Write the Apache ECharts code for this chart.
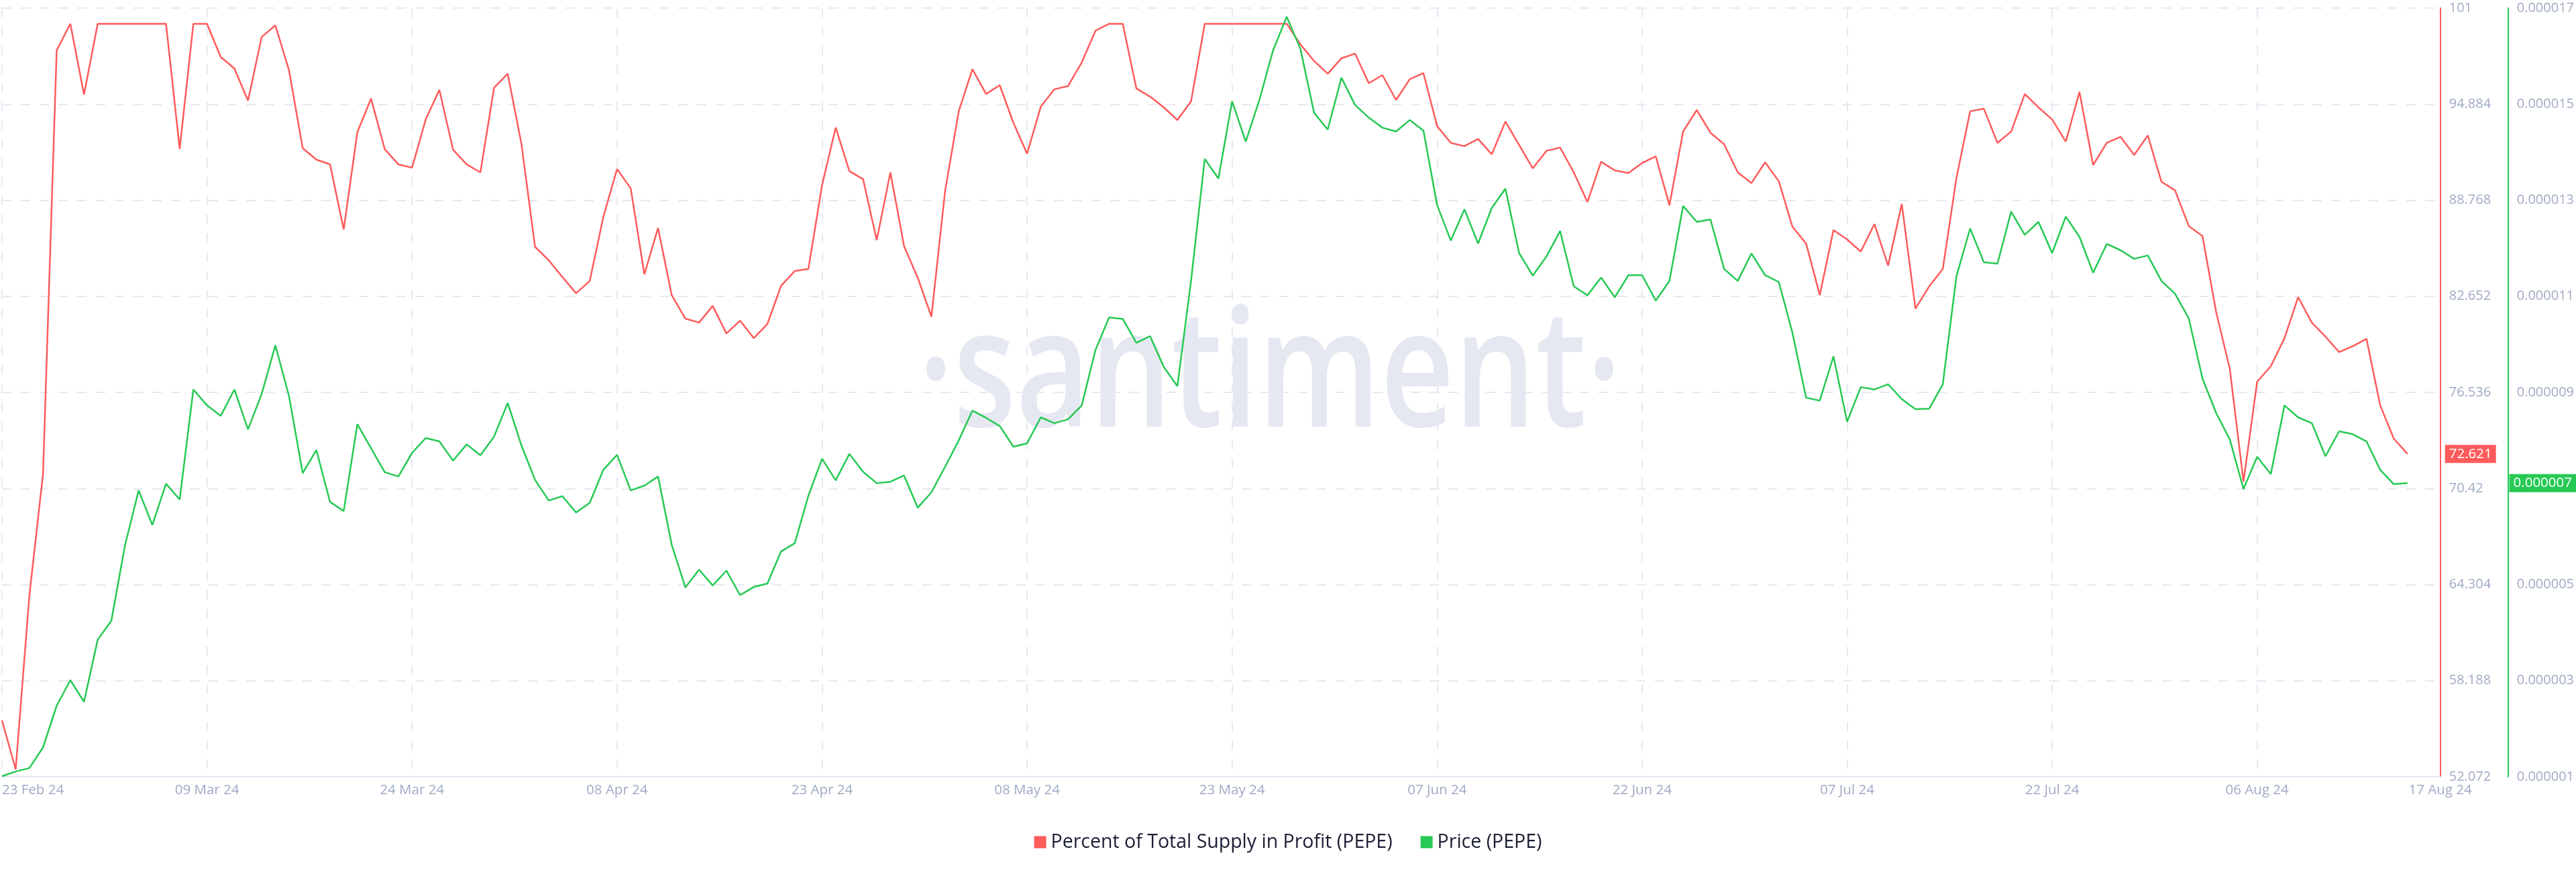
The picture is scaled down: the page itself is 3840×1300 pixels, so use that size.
<!DOCTYPE html>
<html>
<head>
<meta charset="utf-8">
<script src="https://cdn.jsdelivr.net/npm/echarts@6/dist/echarts.min.js"></script>
<style>
html,body{margin:0;padding:0;background:#ffffff;}
#chart{width:3840px;height:1300px;}
</style>
</head>
<body>
<div id="chart"></div>
<script>
// ---- data (daily, 23 Feb 2024 .. 17 Aug 2024) ----
const startDate = { year: 2024, month: 1, day: 23 }; // month is 0-based (Feb)

const seriesNames = ['Percent of Total Supply in Profit (PEPE)', 'Price (PEPE)'];

const profitPct = [
  55.66, 52.54, 63.6, 71.33, 98.31, 100, 95.49, 100, 100, 100,
  100, 100, 100, 92.03, 100, 100, 97.88, 97.16, 95.11, 99.16,
  99.9, 97.03, 92.08, 91.35, 91.05, 86.91, 93.1, 95.24, 92.03, 91.05,
  90.84, 93.91, 95.79, 91.99, 91.05, 90.54, 95.92, 96.82, 92.38, 85.8,
  84.95, 83.88, 82.85, 83.62, 87.72, 90.75, 89.52, 84.05, 87.0, 82.73,
  81.23, 80.98, 82.04, 80.29, 81.1, 79.99, 80.89, 83.32, 84.26, 84.39,
  89.73, 93.4, 90.62, 90.11, 86.23, 90.54, 85.84, 83.84, 81.36, 89.34,
  94.43, 97.11, 95.53, 96.09, 93.7, 91.73, 94.72, 95.83, 96.04, 97.54,
  99.55, 100, 100, 95.88, 95.36, 94.68, 93.87, 95.07, 100, 100,
  100, 100, 100, 100, 100, 98.69, 97.63, 96.82, 97.8, 98.1,
  96.22, 96.73, 95.15, 96.47, 96.86, 93.49, 92.42, 92.21, 92.67, 91.69,
  93.78, 92.29, 90.8, 91.91, 92.12, 90.54, 88.66, 91.22, 90.67, 90.5,
  91.14, 91.56, 88.45, 93.14, 94.51, 93.06, 92.33, 90.54, 89.86, 91.18,
  89.98, 87.08, 86.01, 82.73, 86.87, 86.27, 85.5, 87.25, 84.61, 88.53,
  81.87, 83.28, 84.39, 90.2, 94.43, 94.6, 92.42, 93.14, 95.53, 94.68,
  93.91, 92.5, 95.66, 91.01, 92.42, 92.8, 91.65, 92.89, 89.94, 89.39,
  87.12, 86.48, 81.66, 78.03, 70.86, 77.22, 78.2, 79.99, 82.6, 80.98,
  80.08, 79.1, 79.48, 79.95, 75.72, 73.59, 72.621
];

// price in millionths of a dollar (1 = 0.000001)
const priceMicro = [
  1.01, 1.11, 1.18, 1.61, 2.48, 3.01, 2.56, 3.85, 4.25, 5.82,
  6.96, 6.24, 7.1, 6.77, 9.06, 8.73, 8.51, 9.06, 8.23, 8.97,
  9.98, 8.92, 7.32, 7.8, 6.72, 6.53, 8.34, 7.84, 7.34, 7.25,
  7.74, 8.05, 7.98, 7.58, 7.92, 7.69, 8.08, 8.78, 7.9, 7.18,
  6.75, 6.84, 6.5, 6.7, 7.39, 7.7, 6.96, 7.06, 7.25, 5.83,
  4.94, 5.31, 4.98, 5.29, 4.78, 4.95, 5.02, 5.69, 5.86, 6.85,
  7.62, 7.17, 7.72, 7.35, 7.11, 7.14, 7.27, 6.6, 6.92, 7.45,
  8.0, 8.62, 8.47, 8.3, 7.87, 7.94, 8.48, 8.36, 8.44, 8.73,
  9.88, 10.56, 10.53, 10.03, 10.17, 9.53, 9.13, 11.33, 13.86, 13.45,
  15.06, 14.22, 15.09, 16.12, 16.82, 16.15, 14.82, 14.47, 15.55, 14.98,
  14.72, 14.51, 14.43, 14.67, 14.45, 12.9, 12.16, 12.81, 12.1, 12.84,
  13.24, 11.9, 11.43, 11.83, 12.36, 11.21, 11.02, 11.39, 10.98, 11.44,
  11.44, 10.91, 11.32, 12.88, 12.55, 12.6, 11.57, 11.32, 11.89, 11.44,
  11.3, 10.24, 8.89, 8.83, 9.75, 8.39, 9.11, 9.06, 9.17, 8.86,
  8.65, 8.66, 9.17, 11.42, 12.41, 11.71, 11.68, 12.76, 12.28, 12.55,
  11.9, 12.66, 12.24, 11.49, 12.09, 11.96, 11.78, 11.85, 11.32, 11.05,
  10.54, 9.29, 8.57, 8.02, 6.99, 7.66, 7.3, 8.73, 8.48, 8.36,
  7.67, 8.19, 8.13, 7.98, 7.39, 7.09, 7.11
];

// axis tick settings (as printed on the reference axes)
const profitAxisTicks = { min: 52.072, max: 101, step: 6.116 };
const priceAxisTicks = { min: 1, max: 17, step: 2 };
const dateTickStepDays = 15;

const monthNames = ['Jan','Feb','Mar','Apr','May','Jun','Jul','Aug','Sep','Oct','Nov','Dec'];
const pad2 = n => (n < 10 ? '0' : '') + n;
const dateLabels = profitPct.map((_, i) => {
  const d = new Date(Date.UTC(startDate.year, startDate.month, startDate.day + i));
  return pad2(d.getUTCDate()) + ' ' + monthNames[d.getUTCMonth()] + ' ' + String(d.getUTCFullYear()).slice(2);
});

const RED = '#ff5b5b';
const GREEN = '#26c953';
const AXIS_TXT = '#9faac4';
const GRID = '#e6e9f2';
const FONT = '"Open Sans", "Liberation Sans", sans-serif';

const redData = profitPct.map((v, i) => [i, v]);
const greenData = priceMicro.map((v, i) => [i, v]);
const lastIdx = profitPct.length - 1;

const chart = echarts.init(document.getElementById('chart'), null, { renderer: 'canvas' });

chart.setOption({
  animation: false,
  backgroundColor: '#ffffff',
  textStyle: { fontFamily: FONT },
  graphic: [{
    type: 'text',
    z: 0,
    x: 1893,
    y: 566,
    scaleX: 0.78,
    silent: true,
    style: {
      text: '\u00b7santiment\u00b7',
      x: 0, y: 0,
      align: 'center', verticalAlign: 'middle',
      textAlign: 'center', textVerticalAlign: 'middle',
      fontSize: 245,
      fontWeight: 600,
      fontFamily: FONT,
      fill: '#e5e8f1'
    }
  }],
  grid: { left: 0, right: 201, top: 12, bottom: 142, containLabel: false },
  legend: {
    top: 1236,
    left: 'center',
    itemWidth: 18,
    itemHeight: 18,
    itemGap: 42,
    icon: 'rect',
    textStyle: { fontSize: 28.5, color: '#1b1e33', fontFamily: FONT, padding: [0, 0, 0, 2] },
    data: seriesNames
  },
  xAxis: {
    type: 'value',
    min: 0,
    max: 178.4,
    interval: dateTickStepDays,
    axisLine: { onZero: false, lineStyle: { color: '#e4e7f1', width: 2 } },
    axisTick: { show: false },
    splitLine: { show: true, lineStyle: { color: GRID, width: 2, type: [14, 14] } },
    axisLabel: {
      color: AXIS_TXT,
      fontSize: 20.5,
      fontFamily: FONT,
      margin: 10,
      showMinLabel: true,
      showMaxLabel: true,
      alignMinLabel: 'left',
      formatter: v => dateLabels[Math.min(Math.round(v), lastIdx)]
    }
  },
  yAxis: [{
    type: 'value',
    position: 'right',
    min: profitAxisTicks.min,
    max: profitAxisTicks.max,
    interval: profitAxisTicks.step,
    axisLine: { show: true, onZero: false, lineStyle: { color: RED, width: 2 } },
    axisTick: { show: false },
    splitLine: { show: true, lineStyle: { color: GRID, width: 2, type: [14, 14] } },
    axisLabel: {
      color: AXIS_TXT, fontSize: 20, fontFamily: FONT, margin: 13,
      formatter: v => String(parseFloat(v.toFixed(3)))
    },
    axisPointer: {
      show: true, type: 'none', snap: false, status: 'show', triggerTooltip: false,
      value: profitPct[lastIdx],
      label: {
        show: true, margin: 7, backgroundColor: RED, color: '#ffffff',
        fontSize: 20.5, fontFamily: FONT, padding: [3, 6, 3, 6], borderRadius: 0,
        formatter: p => String(parseFloat(Number(p.value).toFixed(3)))
      }
    }
  }, {
    type: 'value',
    position: 'right',
    offset: 101,
    min: priceAxisTicks.min,
    max: priceAxisTicks.max,
    interval: priceAxisTicks.step,
    axisLine: { show: true, onZero: false, lineStyle: { color: GREEN, width: 2 } },
    axisTick: { show: false },
    splitLine: { show: false },
    axisLabel: {
      color: AXIS_TXT, fontSize: 20, fontFamily: FONT, margin: 13,
      formatter: v => (v / 1e6).toFixed(6)
    },
    axisPointer: {
      show: true, type: 'none', snap: false, status: 'show', triggerTooltip: false,
      value: priceMicro[lastIdx],
      label: {
        show: true, margin: 6, backgroundColor: GREEN, color: '#ffffff',
        fontSize: 20.5, fontFamily: FONT, padding: [3, 6, 3, 6], borderRadius: 0,
        formatter: p => (Number(p.value) / 1e6).toFixed(6)
      }
    }
  }],
  series: [{
    name: seriesNames[0],
    type: 'line',
    yAxisIndex: 0,
    data: redData,
    showSymbol: false,
    symbol: 'none',
    lineStyle: { color: RED, width: 2.5 },
    itemStyle: { color: RED },
    z: 3
  }, {
    name: seriesNames[1],
    type: 'line',
    yAxisIndex: 1,
    data: greenData,
    showSymbol: false,
    symbol: 'none',
    lineStyle: { color: GREEN, width: 2.5 },
    itemStyle: { color: GREEN },
    z: 4
  }]
});
</script>
</body>
</html>
